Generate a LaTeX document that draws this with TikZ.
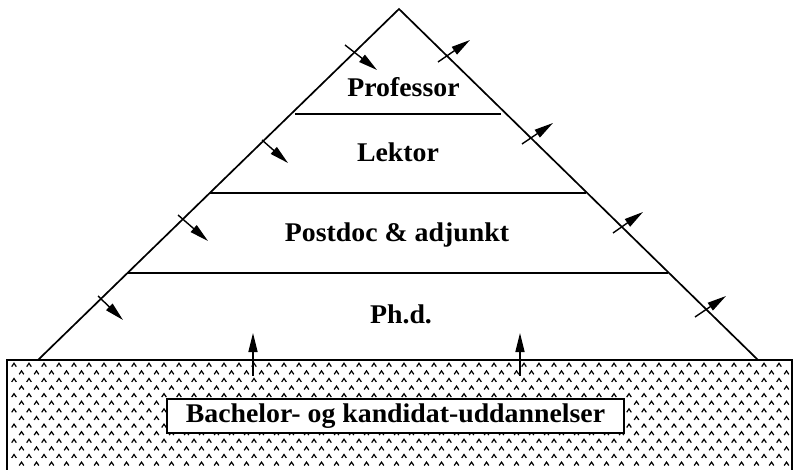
\documentclass[tikz,border=0pt]{standalone}
\usepackage{fontspec}
\newfontfamily\lblfont[FakeStretch=1.03]{Liberation Serif}
\usetikzlibrary{arrows.meta}
\begin{document}
\begin{tikzpicture}[x=1pt,y=-1pt,
  edge/.style={line width=1.7pt, line cap=round, line join=miter},
  layer/.style={line width=1.4pt},
  flow/.style={line width=1.4pt, -{Triangle[length=19pt,width=9pt]}},
  caret/.style={line width=1.2pt, line join=miter},
  lbl/.style={font=\lblfont\bfseries\fontsize{27}{30}\selectfont, inner sep=0pt, anchor=base},
  boxlbl/.style={font=\lblfont\bfseries\fontsize{27}{30}\selectfont, draw, line width=1.8pt, fill=white,
                 minimum width=457pt, minimum height=34pt, inner sep=0pt}]
\useasboundingbox (0,0) rectangle (794,470);
\fill[white] (0,0) rectangle (794,470);

% ground pattern
\foreach \r in {0,...,13}{
  \foreach \c in {0,...,51}{
    \pgfmathsetmacro{\xx}{14+15*\c+7.5*mod(\r,2)}
    \pgfmathsetmacro{\yy}{365+7.6*\r}
    \draw[caret] (\xx-2.3,\yy+1.7) -- (\xx,\yy-1.7) -- (\xx+2.3,\yy+1.7);
  }
}
\draw[edge] (7,470) -- (7,360) -- (792,360) -- (792,470);

% pyramid
\coordinate (apex) at (399,9);
\coordinate (bl) at (38,360);
\coordinate (br) at (758,360);
\draw[edge] (bl) -- (apex) -- (br);
\draw[layer] (295,114) -- (501,114);
\draw[layer] (210,193) -- (586,193);
\draw[layer] (128,273) -- (668,273);

% labels
\node[lbl] (prof) at (403.5,97) {Professor};
\node[lbl] (lekt) at (398,162) {Lektor};
\node[lbl] (post) at (397,241) {Postdoc \& adjunkt};
\node[lbl] (phd) at (401,323) {Ph.d.};
\node[boxlbl] (edu) at (395.5,416) {Bachelor- og kandidat-uddannelser};

% inflow arrows (left side)
\coordinate (l1a) at (345,45);  \coordinate (l1b) at (377,70);
\coordinate (l2a) at (262,140); \coordinate (l2b) at (288,163);
\coordinate (l3a) at (178,215); \coordinate (l3b) at (208,241);
\coordinate (l4a) at (98,296);  \coordinate (l4b) at (123,320);
\foreach \i in {1,...,4} \draw[flow] (l\i a) -- (l\i b);

% outflow arrows (right side)
\coordinate (r1a) at (438,62);  \coordinate (r1b) at (470,40);
\coordinate (r2a) at (522,144); \coordinate (r2b) at (553,123);
\coordinate (r3a) at (613,233); \coordinate (r3b) at (643,212);
\coordinate (r4a) at (695,317); \coordinate (r4b) at (726,296);
\foreach \i in {1,...,4} \draw[flow] (r\i a) -- (r\i b);

% upward arrows from education
\coordinate (u1a) at (253,376); \coordinate (u1b) at (253,333);
\coordinate (u2a) at (520,376); \coordinate (u2b) at (520,333);
\draw[flow] (u1a) -- (u1b);
\draw[flow] (u2a) -- (u2b);
\end{tikzpicture}
\end{document}
